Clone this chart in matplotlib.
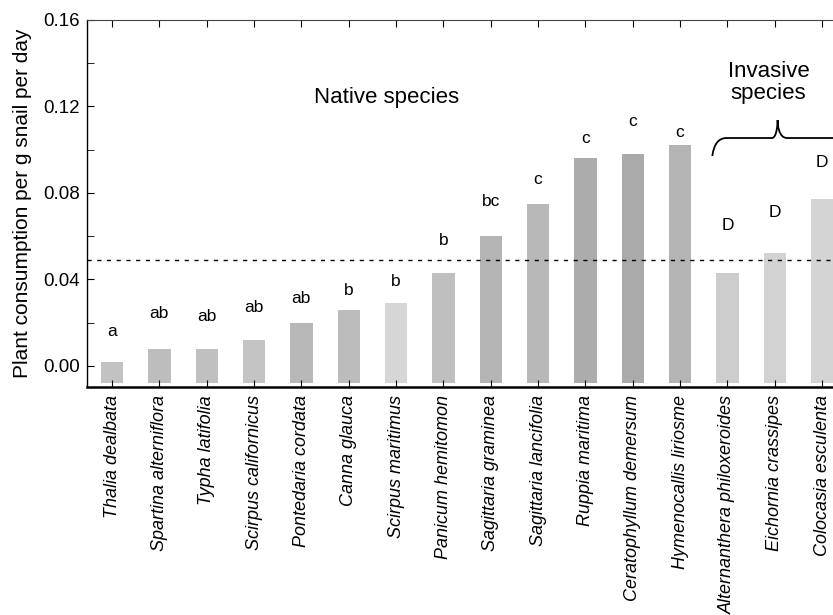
import numpy as np
import matplotlib
matplotlib.use("Agg")
import matplotlib.pyplot as plt
from matplotlib.path import Path
from matplotlib.patches import PathPatch

plt.rcParams['font.family'] = ['Liberation Sans', 'DejaVu Sans']

species = ["Thalia dealbata", "Spartina alterniflora", "Typha latifolia",
           "Scirpus californicus", "Pontedaria cordata", "Canna glauca",
           "Scirpus maritimus", "Panicum hemitomon", "Sagittaria graminea",
           "Sagittaria lancifolia", "Ruppia maritima", "Ceratophyllum demersum",
           "Hymenocallis liriosme", "Alternanthera philoxeroides",
           "Eichornia crassipes", "Colocasia esculenta"]
consumption = [0.002, 0.008, 0.008, 0.012, 0.020, 0.026, 0.029, 0.043,
               0.060, 0.075, 0.096, 0.098, 0.102, 0.043, 0.052, 0.077]
letters = ["a", "ab", "ab", "ab", "ab", "b", "b", "b", "bc", "c", "c", "c", "c",
           "D", "D", "D"]
letter_y = [0.016, 0.024, 0.023, 0.027, 0.031, 0.035, 0.039, 0.058, 0.076,
            0.086, 0.105, 0.113, 0.108, 0.065, 0.071, 0.094]
reference_level = 0.049

bar_colors = ['#c2c2c2', '#bdbdbd', '#c0c0c0', '#c4c4c4', '#b8b8b8', '#bcbcbc',
              '#d6d6d6', '#bfbfbf', '#b4b4b4', '#b8b8b8', '#acacac', '#aaaaaa',
              '#b4b4b4', '#cccccc', '#d2d2d2', '#d4d4d4']

fig = plt.figure(figsize=(8.33, 6.15), dpi=100)
ax = fig.add_axes([0.1044, 0.371, 0.8956 + 0.02, 0.5965])

x = np.arange(len(species))
ax.bar(x, np.array(consumption) + 0.008, bottom=-0.008, width=0.47,
       color=bar_colors, edgecolor='none')

for xi, lab, ly in zip(x, letters, letter_y):
    ax.text(xi, ly, lab, ha='center', va='center', fontsize=12.5)

ax.axhline(reference_level, color='black', lw=1, ls=(0, (3, 4)))

ax.text(5.8, 0.124, "Native species", ha='center', va='center', fontsize=16)
ax.text(13.87, 0.131, "Invasive\nspecies", ha='center', va='center',
        fontsize=16, linespacing=1.05)

# curly brace over the invasive species
x0, xm, x1 = 12.68, 14.06, 15.6
yh, yp, ye = 0.1054, 0.1137, 0.0971
verts = [(x0, ye), (x0 + 0.05, yh), (x0 + 0.3, yh),
         (xm - 0.12, yh),
         (xm - 0.02, yh), (xm, yp - 0.002), (xm, yp),
         (xm, yp - 0.002), (xm + 0.02, yh), (xm + 0.2, yh),
         (x1, yh)]
codes = [Path.MOVETO, Path.CURVE3, Path.CURVE3, Path.LINETO,
         Path.CURVE4, Path.CURVE4, Path.CURVE4,
         Path.CURVE4, Path.CURVE4, Path.CURVE4, Path.LINETO]
ax.add_patch(PathPatch(Path(verts, codes), fc='none', ec='black', lw=1.3,
                       clip_on=True))

ax.set_xlim(-0.53, 15.23 + 0.02 / 0.8956 * 15.76)
ax.set_ylim(-0.0097, 0.16)
ax.set_yticks([0.00, 0.04, 0.08, 0.12, 0.16])
ax.set_yticks([0.02, 0.06, 0.10, 0.14], minor=True)
ax.set_yticklabels(["0.00", "0.04", "0.08", "0.12", "0.16"], fontsize=13.5)
ax.set_xticks(x)
ax.set_xticklabels(species, rotation=90, style='italic', fontsize=13)
ax.tick_params(axis='y', which='both', direction='in', length=5, pad=5)
ax.tick_params(axis='x', direction='in', length=5, top=True, pad=6)
ax.set_ylabel("Plant consumption per g snail per day", fontsize=15, labelpad=8)

ax.spines['right'].set_visible(False)
ax.spines['top'].set_linewidth(0.8)
ax.spines['top'].set_color('#444444')
ax.spines['bottom'].set_linewidth(1.8)
ax.spines['left'].set_linewidth(1.0)

fig.savefig("out.png", dpi=100)
